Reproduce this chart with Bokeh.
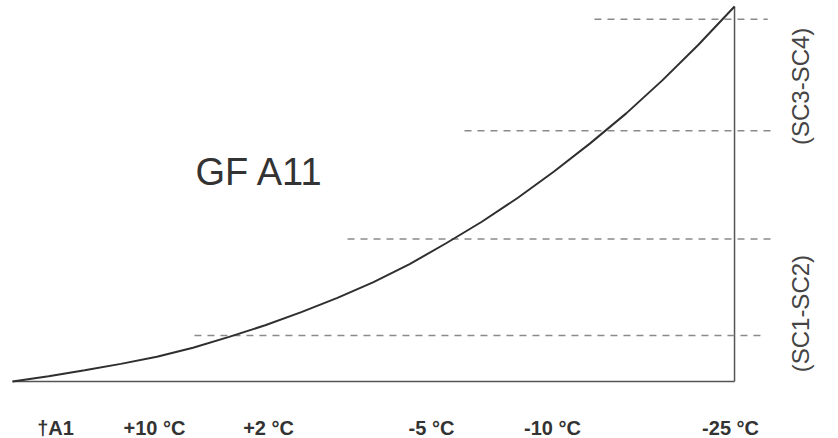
from bokeh.plotting import figure
from bokeh.models import Range1d, ColumnDataSource
from bokeh.core.properties import value
from bokeh.embed import file_html
from bokeh.resources import INLINE

# Curve (relative cold-load vs. temperature), 0..100 units
curve_x = [0, 5, 10, 15, 20, 25, 30, 35, 40, 45, 50, 55, 60, 65, 70, 75, 80, 85, 90, 95, 100]
curve_y = [0, 1.4, 3.0, 4.7, 6.6, 9.0, 11.9, 15.0, 18.5, 22.3, 26.5, 31.3, 36.8, 42.6,
           49.0, 56.0, 63.5, 71.5, 80.3, 89.8, 100]

# Dashed threshold levels (y) with their start/end x
level_y = [96.6, 66.9, 38.0, 12.3]
level_x0 = [80.6, 62.6, 46.4, 25.2]
level_x1 = [104.6, 105.5, 105.3, 104.2]

# Temperature tick labels along the bottom
temp_labels = ["†A1", "+10 °C", "+2 °C", "-5 °C", "-10 °C", "-25 °C"]
temp_pos = [5.96, 19.67, 35.46, 58.03, 74.79, 99.45]

# Group labels on the right
group_labels = ["(SC3-SC4)", "(SC1-SC2)"]
group_pos = [78.7, 18.1]

title_text = "GF A11"

p = figure(width=838, height=438, output_backend="svg", toolbar_location=None,
           x_range=Range1d(-1.662, 114.4), y_range=Range1d(-15.2, 101.6),
           min_border=0, outline_line_color=None)
p.axis.visible = False
p.grid.visible = False
p.background_fill_color = "white"
p.border_fill_color = "white"

# frame lines
p.line([0, 100], [0, 0], line_color="#555555", line_width=1.5)
p.line([100, 100], [0, 100], line_color="#555555", line_width=1.5)

# dashed levels
p.segment(x0=level_x0, y0=level_y, x1=level_x1, y1=level_y,
          line_color="#8a8a8a", line_width=1.5, line_dash="7 6")

# curve
p.line(curve_x, curve_y, line_color="#2f2f2f", line_width=2)

# bottom labels
src = ColumnDataSource(dict(x=temp_pos, y=[-12.27] * len(temp_pos), t=temp_labels))
p.text(x="x", y="y", text="t", source=src, text_align="center",
       text_baseline="alphabetic", text_font=value("Liberation Sans"),
       text_font_style="bold", text_font_size="20px", text_color="#333333")

# right rotated labels
src2 = ColumnDataSource(dict(x=[109.1] * len(group_pos), y=group_pos, t=group_labels))
p.text(x="x", y="y", text="t", source=src2, text_align="center",
       text_baseline="middle", angle=1.5708, text_font=value("Liberation Sans"),
       text_font_size="24px", text_color="#444444")

# title inside
p.text(x=[25.35], y=[56.0], text=[title_text], text_align="left",
       text_baseline="alphabetic", text_font=value("Liberation Sans"),
       text_font_size="38px", text_color="#333333")

open("out.html", "w").write(file_html(p, INLINE))
